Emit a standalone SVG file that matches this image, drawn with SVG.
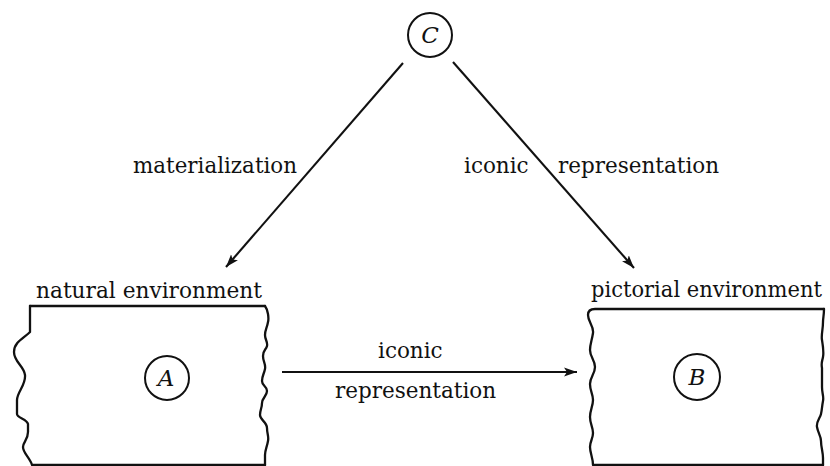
<svg xmlns="http://www.w3.org/2000/svg" width="830" height="466" viewBox="0 0 830 466">
<style>
.t{font-family:"DejaVu Serif","Liberation Serif",serif;font-size:21.5px;fill:#111}
.l{font-family:"DejaVu Serif","Liberation Serif",serif;font-size:23px;font-style:italic;fill:#111;text-anchor:middle}
.s{fill:none;stroke:#111;stroke-width:2.3;stroke-linecap:round;stroke-linejoin:round}
.c{fill:#fff;stroke:#111;stroke-width:2}
.e{stroke:#111;stroke-width:2.1;fill:none}
</style>
<defs>
<marker id="ah" viewBox="0 0 14 10" refX="13" refY="5" markerWidth="14" markerHeight="10" markerUnits="userSpaceOnUse" orient="auto">
<path d="M0,0.5 L13,5 L0,9.5 L3,5 z" fill="#111"/>
</marker>
</defs>
<rect width="830" height="466" fill="#fff"/>
<g id="envA">
<path class="s" d="M30,306 L265,306"/>
<path class="s" d="M30,306 L30,332 C24,338 14,342 14,352 C14,362 24,366 25,375 C26,385 17,392 17,400 L17,414 C17,418 27,419 28,424 L28,432 C28,440 23,442 23,447 C23,453 30,458 32,465 L265,465"/>
<path class="s" d="M265,306 C268,310 269,318 268,322 C267,328 265,330 265,335 C265,340 268,342 267,346 C266,350 263,350 263,356 C263,362 266,364 265,369 C264,374 262,376 262,381 C262,386 267,386 267,391 C267,396 262,398 262,403 C262,408 260,410 260,415 C260,420 267,422 267,428 C267,434 269,436 268,441 C267,447 265,450 265,455 L265,465"/>
<text class="t" x="36" y="298" textLength="226" lengthAdjust="spacingAndGlyphs">natural environment</text>
</g>
<g id="envB">
<path class="s" d="M824,309 L595,309 C590,309 588,311 588,315 C588,322 594,326 593,333 C592,340 590,344 590,350 C590,357 595,360 595,367 C595,374 590,377 590,384 C590,391 593,394 593,400 C593,406 590,410 590,417 C590,424 593,427 593,433 C593,439 590,441 590,447 C590,453 593,458 593,465 L823,465"/>
<path class="s" d="M824,309 C824,315 823,318 823,322 C823,330 821,335 822,340 C823,346 824,352 823,357 C822,362 821,363 822,368 L822,387 C822,394 824,396 823,401 C822,406 822,410 821,414 C820,418 816,422 817,427 C818,433 821,436 821,441 C821,447 823,452 823,458 L823,465"/>
<text class="t" x="591" y="297" textLength="231" lengthAdjust="spacingAndGlyphs">pictorial environment</text>
</g>
<g id="nodeC">
<circle class="c" cx="430" cy="35" r="22"/>
<text class="l" x="430" y="43">C</text>
</g>
<g id="nodeA">
<circle class="c" cx="167" cy="378" r="22"/>
<text class="l" x="166" y="386">A</text>
</g>
<g id="nodeB">
<circle class="c" cx="697" cy="377" r="23"/>
<text class="l" x="697" y="385">B</text>
</g>
<g id="connectors">
<line class="e" x1="403" y1="63" x2="226" y2="267" marker-end="url(#ah)"/>
<line class="e" x1="453" y1="62" x2="634" y2="268" marker-end="url(#ah)"/>
<line class="e" x1="282" y1="372" x2="577" y2="372" marker-end="url(#ah)"/>
<text class="t" x="133" y="173" textLength="164" lengthAdjust="spacingAndGlyphs">materialization</text>
<text class="t" x="464" y="173">iconic</text>
<text class="t" x="558" y="173">representation</text>
<text class="t" x="378" y="358">iconic</text>
<text class="t" x="335" y="398">representation</text>
</g>
</svg>
